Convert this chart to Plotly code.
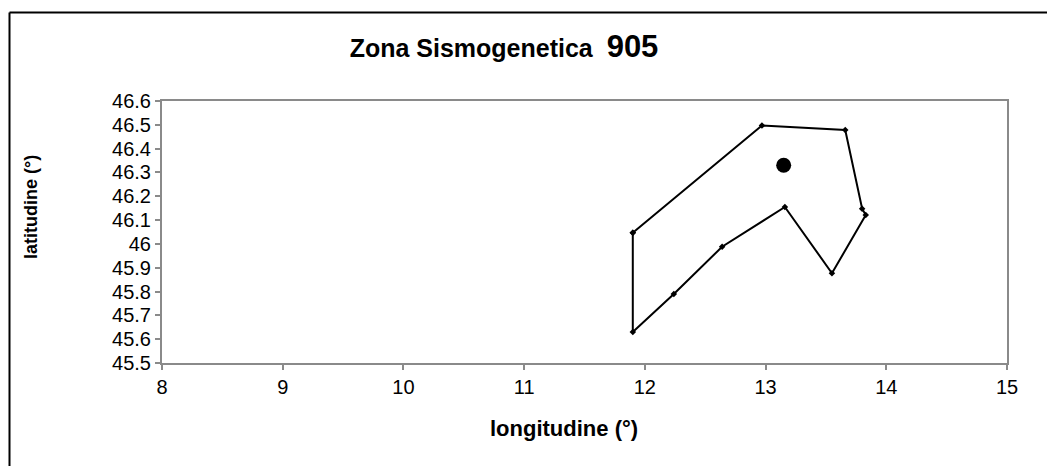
import plotly.graph_objects as go

# Zone boundary (longitude, latitude) – closed polygon
zone_lon = [11.90, 12.97, 13.66, 13.80, 13.83, 13.55, 13.16, 12.64, 12.24, 11.90, 11.90]
zone_lat = [46.047, 46.497, 46.478, 46.148, 46.121, 45.877, 46.155, 45.988, 45.790, 45.630, 46.047]

# Centroid / epicentre marker
centre_lon = [13.15]
centre_lat = [46.33]

x_ticks = [8, 9, 10, 11, 12, 13, 14, 15]
y_ticks = [45.5, 45.6, 45.7, 45.8, 45.9, 46.0, 46.1, 46.2, 46.3, 46.4, 46.5, 46.6]
y_tick_text = ["45.5", "45.6", "45.7", "45.8", "45.9", "46", "46.1", "46.2", "46.3", "46.4", "46.5", "46.6"]

FONT = "Liberation Sans, Arial, sans-serif"

# page body has an 8px margin: figure is drawn offset by (8, 8)
W, H = 1047, 458
L, T = 154, 93
PW, PH = 845, 262

fig = go.Figure()
fig.add_trace(go.Scatter(
    x=zone_lon, y=zone_lat, mode="lines+markers",
    line=dict(color="black", width=2),
    marker=dict(symbol="diamond", size=5, color="black"),
    showlegend=False, hoverinfo="skip"))
fig.add_trace(go.Scatter(
    x=centre_lon, y=centre_lat, mode="markers",
    marker=dict(symbol="circle", size=15, color="black"),
    showlegend=False, hoverinfo="skip"))

axis_common = dict(showgrid=False, zeroline=False, showline=True, linecolor="#8a8a8a",
                   linewidth=2, mirror=True, ticks="outside", ticklen=5, tickcolor="#8a8a8a",
                   tickwidth=1.5, tickfont=dict(family=FONT, size=20, color="black"))

fig.update_layout(
    width=W, height=H,
    margin=dict(l=L, r=W - L - PW, t=T, b=H - T - PH),
    paper_bgcolor="white", plot_bgcolor="white",
    xaxis=dict(range=[8, 15], tickvals=x_ticks, **axis_common),
    yaxis=dict(range=[45.5, 46.6], tickvals=y_ticks, ticktext=y_tick_text, **axis_common),
    title=dict(text="<b>Zona Sismogenetica&nbsp;&nbsp;<span style='font-size:31px'>905</span></b>",
               font=dict(family=FONT, size=25, color="black"),
               xref="container", yref="container", x=496 / W, y=1 - 40 / H,
               xanchor="center", yanchor="middle"),
    annotations=[
        dict(text="<b>longitudine (°)</b>", xref="paper", yref="paper",
             x=(556 - L) / PW, y=(T + PH - 420) / PH, showarrow=False,
             xanchor="center", yanchor="middle",
             font=dict(family=FONT, size=22, color="black")),
        dict(text="<b>latitudine (°)</b>", xref="paper", yref="paper",
             x=(23 - L) / PW, y=(T + PH - 199) / PH, showarrow=False, textangle=-90,
             xanchor="center", yanchor="middle",
             font=dict(family=FONT, size=18, color="black")),
    ],
    shapes=[
        dict(type="line", xref="paper", yref="paper",
             x0=(1.5 - L) / PW, x1=(1050 - L) / PW,
             y0=(T + PH - 4.5) / PH, y1=(T + PH - 4.5) / PH,
             line=dict(color="black", width=2)),
        dict(type="line", xref="paper", yref="paper",
             x0=(1.5 - L) / PW, x1=(1.5 - L) / PW,
             y0=(T + PH - 4.5) / PH, y1=(T + PH - 470) / PH,
             line=dict(color="black", width=2)),
    ],
)

fig.write_html("out.html")
